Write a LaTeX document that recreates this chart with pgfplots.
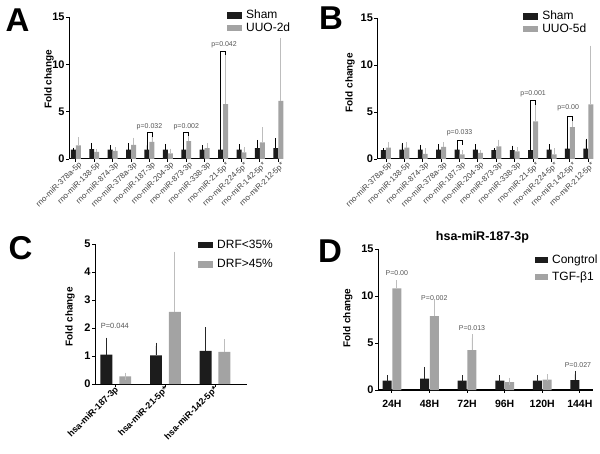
\documentclass[border=0pt]{standalone}
\usepackage{pgfplots}
\usepackage{pgfplotstable}
\pgfplotsset{compat=1.18}
\usepackage{fontspec}
\setmainfont{Liberation Sans}
\definecolor{barblack}{HTML}{1C1C1C}
\definecolor{bargrey}{HTML}{A3A3A3}
\definecolor{errgrey}{HTML}{BDBDBD}
\definecolor{ptext}{HTML}{555555}

% panel A: x, sham, sham err, uuo, uuo err
\pgfplotstableread{
x s se u ue
0 1.00 0.05 1.45 0.70
1 1.05 0.50 0.75 0.15
2 1.00 0.30 0.85 0.25
3 1.00 0.50 1.50 0.60
4 1.00 0.45 1.80 0.65
5 1.00 0.45 0.60 0.35
6 1.00 0.25 1.90 0.45
7 1.00 0.30 1.15 0.40
8 1.00 0.10 5.80 5.15
9 1.00 0.40 0.70 0.40
10 1.15 0.70 1.75 1.45
11 1.15 0.90 6.15 6.45
}\dataA
\pgfplotstableread{
x s se u ue
0 0.95 0.05 1.20 0.45
1 1.00 0.55 1.20 0.45
2 1.00 0.35 0.55 0.45
3 1.00 0.40 1.30 0.30
4 1.00 0.40 0.50 0.30
5 1.00 0.40 0.65 0.15
6 0.95 0.05 1.35 0.55
7 0.95 0.30 0.80 0.30
8 0.95 0.10 4.00 1.55
9 1.00 0.40 0.50 0.50
10 1.10 0.70 3.40 0.50
11 1.10 0.90 5.80 6.10
}\dataB
\pgfplotstableread{
x s se u ue
0 1.05 0.48 0.27 0.01
1 1.02 0.33 2.58 2.02
2 1.18 0.72 1.15 0.32
}\dataC
\pgfplotstableread{
x s se
0 1.00 0.20
1 1.20 0.90
2 1.00 0.20
3 1.00 0.20
4 1.00 0.20
5 1.05 0.60
}\dataDc
\pgfplotstableread{
x u ue
0 10.80 0.50
1 7.85 1.35
2 4.25 1.30
3 0.85 0.10
4 1.10 0.20
}\dataDt

\tikzset{
  pv/.style={font=\fontsize{7}{7}\selectfont, text=ptext, inner sep=0pt},
  br/.style={line width=0.6pt, black},
}
\pgfplotsset{
  gp/.style={
    scale only axis,
    axis lines=left,
    axis line style={line width=1pt,-},
    every tick/.style={line width=0.9pt,black},
    tick align=outside,
    major tick length=3pt,
    ymin=0,
    clip=false,
    yticklabel={\pgfmathprintnumber[assume math mode=true]{\tick}},
    yticklabel style={font=\bfseries\fontsize{11}{11}\selectfont, inner sep=1.2pt},
    ylabel={Fold change},
    ylabel style={font=\bfseries\fontsize{10}{10}\selectfont, anchor=center},
    legend cell align=left,
    legend image code/.code={\fill[##1] (0pt,-3.3pt) rectangle (15pt,3.3pt);},
    legend style={draw=none, fill=none, font=\fontsize{12}{12}\selectfont,
      anchor=north west, inner sep=0pt, column sep=3pt,
      nodes={inner sep=1pt, text height=8.5pt, text depth=2pt}},
  },
  smallbars/.style={
    xtick={0,...,11},
    xticklabels={rno-miR-378a-5p,rno-miR-138-5p,rno-miR-874-3p,rno-miR-378a-3p,rno-miR-187-3p,rno-miR-204-3p,rno-miR-873-3p,rno-miR-338-3p,rno-miR-21-5p*,rno-miR-224-5p*,rno-miR-142-5p*,rno-miR-212-5p*},
    xticklabel style={rotate=44, anchor=east, font=\fontsize{7.9}{8}\selectfont, text=black!75, inner sep=1pt, xshift=3pt, yshift=-5pt},
    ymax=15, ytick={0,5,10,15},
  },
}

\begin{document}
\begin{tikzpicture}
\useasboundingbox (0,0) rectangle (600pt,453pt);

% ---------------- Panel A
\begin{axis}[gp, smallbars,
  at={(69pt,294pt)}, anchor=south west, width=214.3pt, height=142pt,
  xmin=-0.37, xmax=11.27,
  ylabel style={at={(axis description cs:-0.093,0.56)}},
  legend style={at={(axis description cs:0.737,1.057)}},
]
\addplot[ybar, bar width=0.27, bar shift=0pt, fill=barblack, draw=none,
  error bars/.cd, y dir=plus, y explicit,
  error bar style={line width=0.7pt, black},
  error mark options={line width=0.7pt, black, mark size=1.5pt}]
  table[x expr=\thisrow{x}-0.135, y=s, y error=se] {\dataA};
\addlegendentry{Sham}
\addplot[ybar, bar width=0.27, bar shift=0pt, fill=bargrey, draw=none,
  error bars/.cd, y dir=plus, y explicit,
  error bar style={line width=0.7pt, errgrey},
  error mark options={line width=0.7pt, errgrey, mark size=1.5pt}]
  table[x expr=\thisrow{x}+0.135, y=u, y error=ue] {\dataA};
\addlegendentry{UUO-2d}
\draw[br] (axis cs:3.865,1.5) -- (axis cs:3.865,2.8) -- (axis cs:4.135,2.8) -- (axis cs:4.135,2.35);
\node[pv] at (axis cs:4,3.4) {p=0.032};
\draw[br] (axis cs:5.865,1.3) -- (axis cs:5.865,2.8) -- (axis cs:6.135,2.8) -- (axis cs:6.135,2.4);
\node[pv] at (axis cs:6,3.4) {p=0.002};
\draw[br] (axis cs:7.865,1.15) -- (axis cs:7.865,11.4) -- (axis cs:8.135,11.4) -- (axis cs:8.135,11.0);
\node[pv] at (axis cs:8.05,12.1) {p=0.042};
\end{axis}

% ---------------- Panel B
\begin{axis}[gp, smallbars,
  at={(377.3pt,294pt)}, anchor=south west, width=216pt, height=141pt,
  xmin=-0.47, xmax=11.27,
  ylabel style={at={(axis description cs:-0.126,0.54)}},
  legend style={at={(axis description cs:0.675,1.057)}},
]
\addplot[ybar, bar width=0.27, bar shift=0pt, fill=barblack, draw=none,
  error bars/.cd, y dir=plus, y explicit,
  error bar style={line width=0.7pt, black},
  error mark options={line width=0.7pt, black, mark size=1.5pt}]
  table[x expr=\thisrow{x}-0.135, y=s, y error=se] {\dataB};
\addlegendentry{Sham}
\addplot[ybar, bar width=0.27, bar shift=0pt, fill=bargrey, draw=none,
  error bars/.cd, y dir=plus, y explicit,
  error bar style={line width=0.7pt, errgrey},
  error mark options={line width=0.7pt, errgrey, mark size=1.5pt}]
  table[x expr=\thisrow{x}+0.135, y=u, y error=ue] {\dataB};
\addlegendentry{UUO-5d}
\draw[br] (axis cs:3.865,1.45) -- (axis cs:3.865,1.95) -- (axis cs:4.135,1.95) -- (axis cs:4.135,1.5);
\node[pv] at (axis cs:4,2.75) {p=0.033};
\draw[br] (axis cs:7.865,1.1) -- (axis cs:7.865,6.2) -- (axis cs:8.135,6.2) -- (axis cs:8.135,5.75);
\node[pv] at (axis cs:8,6.9) {p=0.001};
\draw[br] (axis cs:9.865,1.85) -- (axis cs:9.865,4.5) -- (axis cs:10.135,4.5) -- (axis cs:10.135,4.0);
\node[pv] at (axis cs:9.9,5.4) {p=0.00};
\end{axis}

% ---------------- Panel C
\begin{axis}[gp,
  at={(95pt,69pt)}, anchor=south west, width=151.7pt, height=140pt,
  xmin=-0.42, xmax=2.64, ymax=5, ytick={0,1,2,3,4,5},
  xtick={0,1,2},
  xticklabels={hsa-miR-187-3p,hsa-miR-21-5p*,hsa-miR-142-5p*},
  xticklabel style={rotate=45, anchor=east, font=\bfseries\fontsize{9}{9}\selectfont, inner sep=1pt, yshift=-2pt, xshift=1pt},
  ylabel style={at={(axis description cs:-0.165,0.48)}},
  legend style={at={(axis description cs:0.679,1.04)}, row sep=7pt},
]
\addplot[ybar, bar width=0.24, bar shift=0pt, fill=barblack, draw=none,
  error bars/.cd, y dir=plus, y explicit,
  error bar style={line width=0.9pt, black!85},
  error mark options={line width=0.9pt, black!85, mark size=3.5pt}]
  table[x expr=\thisrow{x}-0.19, y=s, y error=se] {\dataC};
\addlegendentry{DRF<35\%}
\addplot[ybar, bar width=0.24, bar shift=0pt, fill=bargrey, draw=none,
  error bars/.cd, y dir=plus, y explicit,
  error bar style={line width=0.9pt, errgrey},
  error mark options={line width=0.9pt, errgrey, mark size=3.5pt}]
  table[x expr=\thisrow{x}+0.19, y=u, y error=ue] {\dataC};
\addlegendentry{DRF>45\%}
\node[pv, font=\fontsize{7.5}{7.5}\selectfont] at (axis cs:-0.02,2.07) {P=0.044};
\end{axis}

% ---------------- Panel D
\begin{axis}[gp,
  at={(378pt,63pt)}, anchor=south west, width=215pt, height=141pt,
  xmin=-0.37, xmax=5.35, ymax=15, ytick={0,5,10,15},
  xtick={0,...,5},
  xticklabels={24H,48H,72H,96H,120H,144H},
  xticklabel style={font=\bfseries\fontsize{10.5}{10.5}\selectfont, inner sep=2pt, yshift=-5pt},
  ylabel style={at={(axis description cs:-0.14,0.51)}},
  legend image code/.code={\fill[#1] (0pt,-3.3pt) rectangle (13pt,3.3pt);},
  legend style={at={(axis description cs:0.73,0.967)}, row sep=4.5pt},
]
\addplot[ybar, bar width=0.24, bar shift=0pt, fill=barblack, draw=none,
  error bars/.cd, y dir=plus, y explicit,
  error bar style={line width=0.9pt, black!85},
  error mark options={line width=0.9pt, black!85, mark size=3.5pt}]
  table[x expr=\thisrow{x}-0.13, y=s, y error=se] {\dataDc};
\addlegendentry{Congtrol}
\addplot[ybar, bar width=0.24, bar shift=0pt, fill=bargrey, draw=none,
  error bars/.cd, y dir=plus, y explicit,
  error bar style={line width=0.9pt, errgrey},
  error mark options={line width=0.9pt, errgrey, mark size=3.5pt}]
  table[x expr=\thisrow{x}+0.13, y=u, y error=ue] {\dataDt};
\addlegendentry{TGF-β1}
\node[pv] at (axis cs:0.13,12.4) {P=0.00};
\node[pv] at (axis cs:1.13,9.8) {P=0.002};
\node[pv] at (axis cs:2.13,6.6) {P=0.013};
\node[pv] at (axis cs:4.95,2.6) {P=0.027};
\end{axis}

% titles and panel letters
\node[font=\bfseries\fontsize{12.5}{12.5}\selectfont, inner sep=0pt] at (482.5pt,216pt) {hsa-miR-187-3p};
\node[font=\bfseries\fontsize{33}{33}\selectfont, inner sep=0pt] at (17.5pt,433pt) {A};
\node[font=\bfseries\fontsize{33}{33}\selectfont, inner sep=0pt] at (331pt,434.5pt) {B};
\node[font=\bfseries\fontsize{33}{33}\selectfont, inner sep=0pt] at (20.5pt,204.5pt) {C};
\node[font=\bfseries\fontsize{33}{33}\selectfont, inner sep=0pt] at (330pt,201.5pt) {D};
\end{tikzpicture}
\end{document}
